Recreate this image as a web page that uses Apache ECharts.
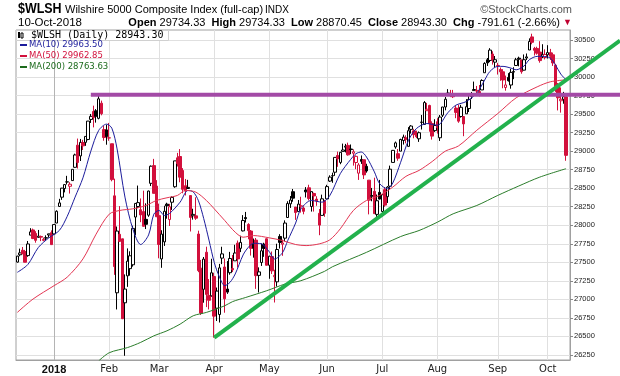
<!DOCTYPE html>
<html>
<head>
<meta charset="utf-8">
<script src="https://cdn.jsdelivr.net/npm/echarts@6/dist/echarts.min.js"></script>
<style>
  html, body { margin: 0; padding: 0; background: #fff; }
  #chart { width: 620px; height: 376px; }
</style>
</head>
<body>
<div id="chart"></div>
<script>
// trading days shown on the chart
const dates = [
  '2017-12-11','2017-12-12','2017-12-13','2017-12-14','2017-12-15','2017-12-18','2017-12-19','2017-12-20','2017-12-21','2017-12-22','2017-12-26','2017-12-27','2017-12-28','2017-12-29',
  '2018-01-02','2018-01-03','2018-01-04','2018-01-05','2018-01-08','2018-01-09','2018-01-10','2018-01-11','2018-01-12','2018-01-16','2018-01-17','2018-01-18','2018-01-19','2018-01-22','2018-01-23','2018-01-24','2018-01-25','2018-01-26','2018-01-29','2018-01-30','2018-01-31',
  '2018-02-01','2018-02-02','2018-02-05','2018-02-06','2018-02-07','2018-02-08','2018-02-09','2018-02-12','2018-02-13','2018-02-14','2018-02-15','2018-02-16','2018-02-20','2018-02-21','2018-02-22','2018-02-23','2018-02-26','2018-02-27','2018-02-28',
  '2018-03-01','2018-03-02','2018-03-05','2018-03-06','2018-03-07','2018-03-08','2018-03-09','2018-03-12','2018-03-13','2018-03-14','2018-03-15','2018-03-16','2018-03-19','2018-03-20','2018-03-21','2018-03-22','2018-03-23','2018-03-26','2018-03-27','2018-03-28','2018-03-29',
  '2018-04-02','2018-04-03','2018-04-04','2018-04-05','2018-04-06','2018-04-09','2018-04-10','2018-04-11','2018-04-12','2018-04-13','2018-04-16','2018-04-17','2018-04-18','2018-04-19','2018-04-20','2018-04-23','2018-04-24','2018-04-25','2018-04-26','2018-04-27','2018-04-30',
  '2018-05-01','2018-05-02','2018-05-03','2018-05-04','2018-05-07','2018-05-08','2018-05-09','2018-05-10','2018-05-11','2018-05-14','2018-05-15','2018-05-16','2018-05-17','2018-05-18','2018-05-21','2018-05-22','2018-05-23','2018-05-24','2018-05-25','2018-05-29','2018-05-30','2018-05-31',
  '2018-06-01','2018-06-04','2018-06-05','2018-06-06','2018-06-07','2018-06-08','2018-06-11','2018-06-12','2018-06-13','2018-06-14','2018-06-15','2018-06-18','2018-06-19','2018-06-20','2018-06-21','2018-06-22','2018-06-25','2018-06-26','2018-06-27','2018-06-28','2018-06-29',
  '2018-07-02','2018-07-03','2018-07-05','2018-07-06','2018-07-09','2018-07-10','2018-07-11','2018-07-12','2018-07-13','2018-07-16','2018-07-17','2018-07-18','2018-07-19','2018-07-20','2018-07-23','2018-07-24','2018-07-25','2018-07-26','2018-07-27','2018-07-30','2018-07-31',
  '2018-08-01','2018-08-02','2018-08-03','2018-08-06','2018-08-07','2018-08-08','2018-08-09','2018-08-10','2018-08-13','2018-08-14','2018-08-15','2018-08-16','2018-08-17','2018-08-20','2018-08-21','2018-08-22','2018-08-23','2018-08-24','2018-08-27','2018-08-28','2018-08-29','2018-08-30','2018-08-31',
  '2018-09-04','2018-09-05','2018-09-06','2018-09-07','2018-09-10','2018-09-11','2018-09-12','2018-09-13','2018-09-14','2018-09-17','2018-09-18','2018-09-19','2018-09-20','2018-09-21','2018-09-24','2018-09-25','2018-09-26','2018-09-27','2018-09-28',
  '2018-10-01','2018-10-02','2018-10-03','2018-10-04','2018-10-05','2018-10-08','2018-10-09','2018-10-10'
];

const opens = [
  27503,27602,27663,27645,27591,27867,27937,27890,27837,27849,27796,27827,27869,27900,
  27883,28030,28254,28379,28496,28584,28526,28603,28782,29081,28936,29117,29119,29158,29428,29535,29544,29443,29647,29291,29287,
  29178,29100,28397,27089,27878,27817,26954,27317,27415,27467,28111,28253,28210,28185,28080,28136,28566,28805,28529,
  28130,27546,27776,28285,28077,28311,28520,28910,28928,28739,28534,28496,28401,28128,28127,27882,27420,27136,27636,27053,27048,
  27309,26881,26796,27557,27437,27140,27360,27417,27520,27759,27689,27924,28104,28011,27922,27744,27800,27324,27498,27745,27818,
  27460,27578,27306,27237,27849,27744,27826,28105,28289,28453,28246,28184,28258,28233,28476,28506,28253,28429,28353,28161,28133,28326,
  28356,28596,28667,28716,28942,28848,28997,29054,29078,29029,28972,28847,28703,28888,28884,28795,28609,28392,28458,28147,28444,
  28186,28481,28386,28527,28848,29057,28966,29000,29144,29180,29065,29294,29274,29223,29167,29392,29361,29546,29617,29374,29277,
  29397,29181,29485,29596,29759,29768,29772,29581,29546,29467,29467,29504,29575,29738,29817,29812,29804,29826,30058,30233,30224,30311,30201,
  30157,30102,30071,29859,29995,29893,30067,30156,30255,30229,30093,30258,30365,30542,30387,30386,30337,30281,30264,
  30300,30330,30300,30160,29880,29680,29700,29734.33
];

const highs = [
  27588,27685,27707,27668,27788,27961,27955,27920,27937,27861,27834,27864,27885,27931,
  28010,28202,28357,28505,28557,28667,28581,28755,28966,29170,29165,29153,29199,29407,29502,29614,29568,29755,29682,29342,29358,
  29381,29100,28629,27983,28259,27819,27337,27688,27649,27994,28298,28536,28362,28467,28296,28467,28807,28896,28609,
  28292,27933,28263,28304,28289,28391,28869,28977,29028,28771,28625,28613,28401,28223,28377,27927,27533,27572,27711,27274,27548,
  27359,27160,27479,27710,27552,27517,27641,27599,27737,27794,27859,28137,28180,28028,27936,27821,27828,27432,27755,27764,27821,
  27588,27646,27400,27751,27880,27807,28066,28324,28394,28490,28246,28341,28385,28256,28515,28547,28454,28440,28392,28219,28413,28342,
  28546,28674,28710,28916,28994,28989,29102,29098,29115,29090,29025,28943,28839,28942,28884,28830,28609,28504,28642,28415,28612,
  28418,28515,28528,28805,29016,29130,29029,29168,29223,29214,29324,29351,29302,29277,29266,29488,29676,29651,29626,29403,29431,
  29445,29488,29597,29731,29837,29827,29827,29616,29628,29625,29467,29702,29756,29799,29939,29880,29893,29970,30200,30257,30390,30348,30284,
  30191,30129,30106,30020,30053,30111,30133,30259,30275,30237,30305,30318,30522,30585,30407,30409,30484,30443,30374,
  30430,30380,30330,30180,29920,29860,29800,29734.33
];

const lows = [
  27496,27582,27614,27501,27575,27867,27813,27765,27830,27786,27784,27794,27833,27739,
  27869,28029,28251,28343,28444,28550,28428,28601,28777,28766,28867,29015,29072,29147,29381,29321,29385,29430,29484,29141,29087,
  29140,28593,27331,26864,27779,26735,26239,27169,27320,27442,27866,28232,28042,27985,27949,28114,28529,28430,28112,
  27554,27426,27721,28089,27990,28207,28506,28793,28580,28432,28402,28490,27916,28076,28073,27367,26790,26955,26896,26864,27037,
  26483,26708,26688,27476,26820,27074,27333,27369,27520,27429,27638,27917,28037,27811,27591,27563,27142,27093,27451,27574,27460,
  27278,27343,26958,27173,27686,27588,27784,28100,28234,28318,28073,28179,28171,28148,28375,28335,28185,28185,28263,27866,28133,28114,
  28356,28584,28573,28667,28789,28824,28997,28983,28940,28959,28805,28757,28612,28828,28624,28710,28147,28324,28155,28077,28349,
  28123,28250,28301,28483,28848,29033,28871,29000,29089,29106,29064,29237,29174,29176,29125,29292,29361,29543,29263,29156,29260,
  29237,29138,29461,29551,29759,29729,29718,29445,29383,29453,29202,29504,29528,29703,29815,29760,29739,29826,30058,30150,30201,30168,30132,
  30034,29949,29849,29816,29939,29843,29972,30151,30145,30045,30089,30229,30365,30442,30291,30302,30194,30256,30238,
  30250,30230,30150,29800,29550,29520,29640,28870.45
];

const closes = [
  27584,27627,27614,27501,27748,27911,27821,27797,27853,27840,27810,27832,27884,27739,
  28009,28189,28302,28501,28549,28586,28554,28755,28949,28847,29119,29072,29199,29406,29470,29453,29471,29706,29506,29184,29198,
  29180,28616,27443,27922,27782,26739,27139,27516,27588,27958,28295,28306,28140,27986,28013,28462,28797,28431,28115,
  27741,27881,28189,28263,28250,28376,28869,28832,28649,28485,28462,28511,28106,28147,28096,27389,26814,27543,27067,26988,27359,
  26774,27112,27425,27614,27008,27098,27552,27399,27626,27546,27769,28065,28089,27928,27689,27691,27320,27371,27656,27687,27460,
  27583,27385,27323,27673,27769,27761,28030,28293,28341,28366,28172,28286,28262,28188,28451,28362,28454,28396,28330,28002,28357,28162,
  28522,28650,28670,28916,28895,28985,29016,29067,28950,29021,28992,28930,28814,28863,28680,28733,28339,28401,28157,28331,28353,
  28412,28272,28515,28757,29011,29112,28905,29158,29190,29160,29276,29339,29223,29195,29249,29389,29656,29566,29372,29203,29346,
  29315,29460,29596,29701,29785,29777,29734,29523,29405,29592,29368,29600,29698,29770,29832,29820,29770,29954,30184,30192,30364,30230,30234,
  30155,30070,29960,29894,29951,30063,30074,30233,30241,30072,30234,30272,30480,30469,30361,30322,30222,30306,30305,
  30330,30280,30190,29870,29720,29700,29734.91,28943.30
];

// moving averages: [day index, value]
const ma10 = [
  [0,27365],[4,27470],[8,27700],[12,27830],[16,27930],[19,28120],[22,28380],[25,28640],[28,29000],[31,29280],[34,29365],[36,29310],
  [38,29030],[41,28380],[44,27950],[47,27740],[50,27870],[52,28150],[54,28200],[56,28132],[58,28160],[62,28312],[65,28470],[67,28450],
  [69,28330],[71,28090],[73,27800],[75,27500],[77,27300],[79,27185],[81,27230],[83,27343],[86,27600],[88,27703],[90,27757],[93,27750],
  [96,27640],[98,27545],[101,27630],[103,27794],[106,28030],[108,28220],[112,28335],[116,28312],[119,28400],[123,28696],[127,28890],
  [129,28966],[131,28989],[133,28921],[136,28720],[138,28561],[141,28493],[143,28570],[146,28850],[149,29147],[152,29305],[156,29373],
  [160,29350],[164,29520],[167,29620],[171,29670],[175,29783],[178,29960],[180,30076],[183,30144],[185,30144],[188,30121],[190,30098],
  [193,30150],[195,30234],[198,30279],[200,30279],[203,30256],[205,30160],[207,30040],[209,29963.50]
];
const ma50 = [
  [0,26824],[6,27005],[14,27185],[19,27300],[25,27546],[30,27880],[35,28150],[39,28200],[44,28222],[49,28267],[53,28335],[57,28371],
  [61,28403],[64,28470],[68,28447],[72,28335],[75,28222],[79,28064],[83,27906],[86,27839],[90,27861],[96,27830],[101,27794],[106,27740],
  [110,27726],[115,27749],[119,27803],[123,27952],[128,28200],[133,28335],[138,28403],[143,28515],[148,28660],[153,28740],[158,28860],
  [163,29000],[168,29070],[175,29282],[183,29508],[190,29720],[198,29868],[203,29936],[209,29962.85]
];
const ma200 = [
  [31,26170],[35,26280],[42,26350],[47,26420],[52,26508],[57,26576],[62,26666],[67,26779],[72,26824],[79,26914],[82,26970],[87,27026],
  [95,27117],[102,27207],[108,27252],[117,27378],[120,27440],[133,27635],[146,27848],[153,27929],[160,28042],[166,28155],[175,28267],
  [183,28403],[191,28530],[199,28650],[209,28763.63]
];

// hand-drawn annotations
const trendFrom = ['2018-04-02', 26483];
const trendTo = ['2018-10-10', 29960];
const resistanceFrom = ['2018-01-23', 29760];

const yTicks = [26250,26500,26750,27000,27250,27500,27750,28000,28250,28500,28750,29000,29250,29500,29750,30000,30250,30500];
const monthNames = ['Jan','Feb','Mar','Apr','May','Jun','Jul','Aug','Sep','Oct','Nov','Dec'];

const categories = dates.concat(['']);

const candleData = dates.map(function (d, i) {
  const up = i === 0 || closes[i] >= closes[i - 1];
  const c = up ? '#000000' : '#d2103c';
  const fill = closes[i] > opens[i] ? '#ffffff' : c;
  return {
    value: [opens[i], closes[i], lows[i], highs[i]],
    itemStyle: { color: fill, color0: fill, borderColor: c, borderColor0: c }
  };
});

function isMonthStart(i) {
  if (i === 0 || !categories[i]) return false;
  return categories[i].slice(5, 7) !== categories[i - 1].slice(5, 7);
}

const chart = echarts.init(document.getElementById('chart'));

chart.setOption({
  animation: false,
  backgroundColor: '#ffffff',
  textStyle: { fontFamily: 'DejaVu Sans' },
  grid: {
    left: 16, right: 50, top: 30, bottom: 16,
    show: true, borderColor: '#a0a0a0', borderWidth: 1, backgroundColor: '#ffffff'
  },
  xAxis: {
    type: 'category',
    data: categories,
    boundaryGap: true,
    axisLine: { lineStyle: { color: '#a0a0a0' } },
    axisTick: { show: false },
    axisLabel: {
      interval: function (i) { return isMonthStart(i); },
      margin: 4,
      color: '#222',
      fontSize: 10,
      formatter: function (v) {
        const m = +v.slice(5, 7) - 1;
        return m === 0 ? '{y|' + v.slice(0, 4) + '}' : monthNames[m];
      },
      rich: { y: { fontWeight: 'bold', fontSize: 11, fontFamily: 'Liberation Sans', color: '#111' } }
    },
    splitLine: {
      show: true,
      alignWithLabel: true,
      interval: function (i) { return isMonthStart(i); },
      lineStyle: { color: ['#b4b4b4', '#e0e0e0', '#e0e0e0', '#e0e0e0', '#e0e0e0', '#e0e0e0', '#e0e0e0', '#e0e0e0', '#e0e0e0', '#e0e0e0'] }
    }
  },
  yAxis: {
    type: 'value',
    position: 'right',
    min: 26182,
    max: 30635,
    minInterval: 250,
    maxInterval: 250,
    axisLine: { show: true, lineStyle: { color: '#a0a0a0' } },
    axisTick: { show: true, length: 3, customValues: yTicks, lineStyle: { color: '#888' } },
    axisLabel: {
      customValues: yTicks,
      margin: 4,
      color: '#222',
      fontSize: 7.5,
      fontFamily: 'Liberation Sans',
      formatter: function (v) { return String(v); }
    },
    splitLine: { show: true, lineStyle: { color: '#e0e0e0' } }
  },
  series: [
    {
      type: 'candlestick',
      data: candleData,
      barWidth: 3,
      clip: false,
      z: 3,
      itemStyle: { borderWidth: 1 }
    },
    {
      name: 'MA(10)', type: 'line', data: ma10, showSymbol: false, smooth: 0.3, z: 4,
      lineStyle: { color: '#1c1c9c', width: 1 }
    },
    {
      name: 'MA(50)', type: 'line', data: ma50, showSymbol: false, smooth: 0.3, z: 4,
      lineStyle: { color: '#e33653', width: 1 }
    },
    {
      name: 'MA(200)', type: 'line', data: ma200, showSymbol: false, smooth: 0.3, z: 4,
      lineStyle: { color: '#2b7d2b', width: 1 }
    }
  ]
});

// annotation lines through the chart's own scales, extended to the right edge
const w = chart.getWidth();
const t1 = chart.convertToPixel({ gridIndex: 0 }, trendFrom);
const t2 = chart.convertToPixel({ gridIndex: 0 }, trendTo);
const slope = (t2[1] - t1[1]) / (t2[0] - t1[0]);
const r1 = chart.convertToPixel({ gridIndex: 0 }, resistanceFrom);

const sans = '"Liberation Sans", sans-serif';

chart.setOption({
  graphic: [
    // header
    { type: 'text', left: 18, top: 2, scaleX: 0.89, style: { text: '$WLSH', font: 'bold 14px ' + sans, fill: '#000' } },
    { type: 'text', left: 65, top: 4, style: { text: 'Wilshire 5000 Composite Index (full-cap)', font: '11px ' + sans, fill: '#000' } },
    { type: 'text', left: 265, top: 5, style: { text: 'INDX', font: '10px ' + sans, fill: '#000' } },
    { type: 'text', right: 48, top: 4, style: { text: '\u00a9StockCharts.com', font: '11px ' + sans, fill: '#555' } },
    { type: 'text', left: 18, top: 17, style: { text: '10-Oct-2018', font: '11.5px ' + sans, fill: '#000' } },
    {
      type: 'text', right: 48, top: 17,
      style: {
        text: '{b|Open} 29734.33  {b|High} 29734.33  {b|Low} 28870.45  {b|Close} 28943.30  {b|Chg} -791.61 (-2.66%) {r|\u25bc}',
        font: '11px ' + sans, fill: '#000',
        rich: { b: { fontWeight: 'bold', fontSize: 11, fontFamily: 'Liberation Sans' }, r: { fill: '#c00030', fontSize: 9 } }
      }
    },
    // legend
    { type: 'rect', shape: { x: 16.5, y: 30.5, width: 152, height: 10 }, style: { fill: '#fff', stroke: '#d0d0d0', lineWidth: 1 }, z: 50 },
    { type: 'rect', shape: { x: 18, y: 32, width: 2, height: 6 }, style: { fill: '#000' }, z: 51 },
    { type: 'rect', shape: { x: 21, y: 33, width: 2, height: 5 }, style: { fill: '#fff', stroke: '#000', lineWidth: 1 }, z: 51 },
    { type: 'text', left: 31, top: 30, z: 51, style: { text: '$WLSH (Daily) 28943.30', font: '10px "DejaVu Sans Mono"', fill: '#000' } },
    { type: 'rect', shape: { x: 20, y: 44, width: 7, height: 2 }, style: { fill: '#1c1c9c' }, z: 51 },
    { type: 'text', left: 29, top: 40, z: 51, style: { text: 'MA(10) 29963.50', font: '8.5px "DejaVu Sans"', fill: '#1c1c9c' } },
    { type: 'rect', shape: { x: 20, y: 55, width: 7, height: 2 }, style: { fill: '#d2103c' }, z: 51 },
    { type: 'text', left: 29, top: 51, z: 51, style: { text: 'MA(50) 29962.85', font: '8.5px "DejaVu Sans"', fill: '#d2103c' } },
    { type: 'rect', shape: { x: 20, y: 66, width: 7, height: 2 }, style: { fill: '#1d6b1d' }, z: 51 },
    { type: 'text', left: 29, top: 62, z: 51, style: { text: 'MA(200) 28763.63', font: '8.5px "DejaVu Sans"', fill: '#1d6b1d' } },
    // horizontal resistance and rising trend line
    {
      type: 'line', z: 40,
      shape: { x1: r1[0], y1: r1[1], x2: w, y2: r1[1] },
      style: { stroke: '#a34aa6', lineWidth: 4 }
    },
    {
      type: 'line', z: 41,
      shape: { x1: t1[0], y1: t1[1], x2: w, y2: t1[1] + slope * (w - t1[0]) },
      style: { stroke: '#22b14c', lineWidth: 4 }
    }
  ]
});
</script>
</body>
</html>
